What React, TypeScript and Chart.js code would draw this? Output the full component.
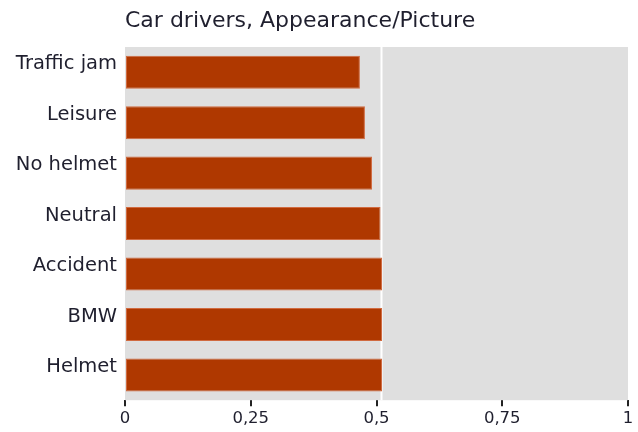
import React, { useEffect, useRef } from "react";
import { Chart, registerables } from "chart.js";

Chart.register(...registerables);

const categories = ["Traffic jam", "Leisure", "No helmet", "Neutral", "Accident", "BMW", "Helmet"];
const values = [0.467, 0.477, 0.491, 0.508, 0.511, 0.511, 0.511];
const xTicks = [0, 0.25, 0.5, 0.75, 1];
const xTickLabels = ["0", "0,25", "0,5", "0,75", "1"];
const referenceLine = 0.509;
const titleText = "Car drivers, Appearance/Picture";

const FONT = "'DejaVu Sans', Verdana, sans-serif";

const decorPlugin = {
  id: "decor",
  beforeDatasetsDraw(chart: any) {
    const { ctx, chartArea, scales } = chart;
    ctx.save();
    ctx.fillStyle = "#DFDFDF";
    ctx.fillRect(chartArea.left, chartArea.top, chartArea.right - chartArea.left, chartArea.bottom - chartArea.top);
    const x = Math.round(scales.x.getPixelForValue(referenceLine)) + 0.5;
    ctx.strokeStyle = "#FFFFFF";
    ctx.lineWidth = 2;
    ctx.beginPath();
    ctx.moveTo(x, chartArea.top);
    ctx.lineTo(x, chartArea.bottom);
    ctx.stroke();
    ctx.restore();
  },
  afterDraw(chart: any) {
    const { ctx, chartArea } = chart;
    ctx.save();
    ctx.fillStyle = "#1f1f2e";
    ctx.font = `22px ${FONT}`;
    ctx.textBaseline = "alphabetic";
    ctx.textAlign = "left";
    ctx.fillText(titleText, chartArea.left, 27);
    ctx.restore();
  },
};

export default function App() {
  const ref = useRef<HTMLCanvasElement | null>(null);
  useEffect(() => {
    document.body.style.margin = "0";
    const chart = new Chart(ref.current!, {
      type: "bar",
      data: {
        labels: categories,
        datasets: [
          {
            data: values,
            backgroundColor: "#AF3800",
            borderColor: "#D06A40",
            borderWidth: 1,
            borderSkipped: false,
            categoryPercentage: 1,
            barPercentage: 0.655,
          },
        ],
      },
      options: {
        indexAxis: "y",
        animation: false,
        responsive: true,
        maintainAspectRatio: false,
        layout: { padding: { top: 47, right: 10, left: 0, bottom: 0 } },
        plugins: { legend: { display: false }, tooltip: { enabled: false }, title: { display: false } },
        scales: {
          x: {
            min: 0,
            max: 1,
            afterBuildTicks(scale: any) {
              scale.ticks = xTicks.map((v) => ({ value: v }));
            },
            ticks: {
              callback: (v: any) => xTickLabels[xTicks.indexOf(Number(v))] ?? "",
              color: "#1f1f2e",
              font: { family: FONT, size: 16.5 },
              padding: 3,
              maxRotation: 0,
            },
            grid: { drawOnChartArea: false, drawTicks: true, tickLength: 6, color: "#222", lineWidth: 2 },
            border: { display: false },
          },
          y: {
            afterFit(scale: any) {
              scale.width = 125;
            },
            ticks: {
              color: "#1f1f2e",
              font: { family: FONT, size: 19.5 },
              padding: 8,
              labelOffset: -8,
            },
            grid: { display: false, drawTicks: false },
            border: { display: false },
          },
        },
      },
      plugins: [decorPlugin],
    });
    return () => chart.destroy();
  }, []);
  return (
    <div style={{ position: "relative", width: 638, height: 432 }}>
      <canvas ref={ref} />
    </div>
  );
}
